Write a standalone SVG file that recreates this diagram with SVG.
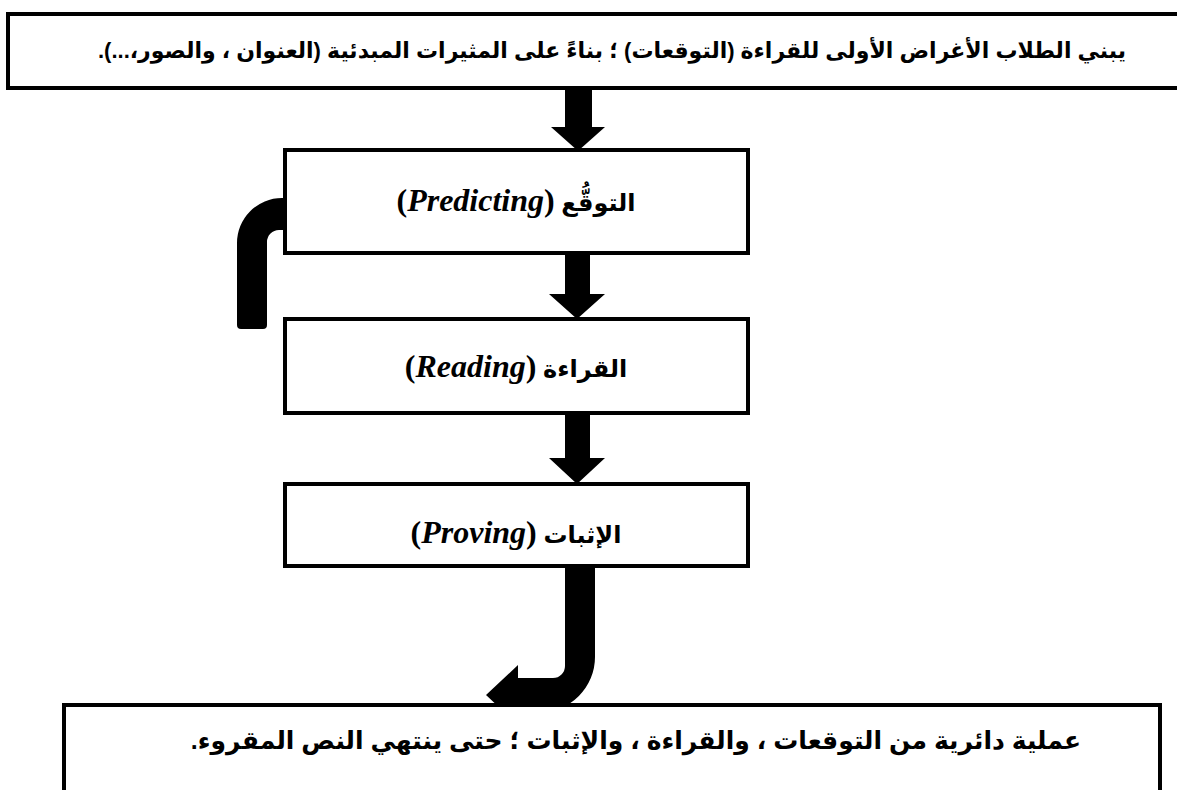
<svg xmlns="http://www.w3.org/2000/svg" width="1177" height="790" viewBox="0 0 1177 790">
<style>
.box{fill:#fff;stroke:#000;stroke-width:4}
.conn{fill:#000;stroke:none}
.ar{font-family:"Liberation Sans","DejaVu Sans",sans-serif;font-weight:bold;fill:#000}
.en{font-family:"Liberation Serif",serif;font-weight:bold;font-style:italic}
.par{font-family:"Liberation Serif",serif;font-weight:bold;font-style:normal}
</style>
<rect width="1177" height="790" fill="#fff"/>
<g id="connectors">
<polygon class="conn" points="565,88 592,88 592,127 605,127 578,151 551,127 565,127"/>
<polygon class="conn" points="565,253 590,253 590,294 605,294 577,319 549,294 565,294"/>
<polygon class="conn" points="565,413 590,413 590,458 605,458 577,484 549,458 565,458"/>
<path class="conn" d="M287 198 H282 A45 45 0 0 0 237 243 V325 Q237 329 241 329 H263 Q267 329 267 325 V242 A12 12 0 0 1 279 230 H287 Z"/>
<path class="conn" d="M565 566 V666 A12 12 0 0 1 553 678 H518 V665 L486 695 L518 725 V712 H540 A55 55 0 0 0 595 657 V566 Z"/>
</g>
<g id="node-top">
<rect class="box" x="8" y="14" width="1185" height="74"/>
<text class="ar" x="612" y="58" font-size="22" text-anchor="middle" direction="rtl">يبني الطلاب الأغراض الأولى للقراءة (التوقعات) ؛ بناءً على المثيرات المبدئية (العنوان ، والصور،...).</text>
</g>
<g id="node-predicting">
<rect class="box" x="285" y="150" width="463" height="103"/>
<text class="ar" x="516" y="211" font-size="24" text-anchor="middle" direction="rtl">التوقُّع <tspan class="par" font-size="32">(</tspan><tspan class="en" font-size="32">Predicting</tspan><tspan class="par" font-size="32">)</tspan></text>
</g>
<g id="node-reading">
<rect class="box" x="285" y="319" width="463" height="94"/>
<text class="ar" x="516" y="377" font-size="24" text-anchor="middle" direction="rtl">القراءة <tspan class="par" font-size="32">(</tspan><tspan class="en" font-size="32">Reading</tspan><tspan class="par" font-size="32">)</tspan></text>
</g>
<g id="node-proving">
<rect class="box" x="285" y="484" width="463" height="82"/>
<text class="ar" x="516" y="543" font-size="24" text-anchor="middle" direction="rtl">الإثبات <tspan class="par" font-size="32">(</tspan><tspan class="en" font-size="32">Proving</tspan><tspan class="par" font-size="32">)</tspan></text>
</g>
<g id="node-bottom">
<rect class="box" x="64" y="705" width="1096" height="100"/>
<text class="ar" x="636" y="749" font-size="25" text-anchor="middle" direction="rtl">عملية دائرية من التوقعات ، والقراءة ، والإثبات ؛ حتى ينتهي النص المقروء.</text>
</g>
</svg>
